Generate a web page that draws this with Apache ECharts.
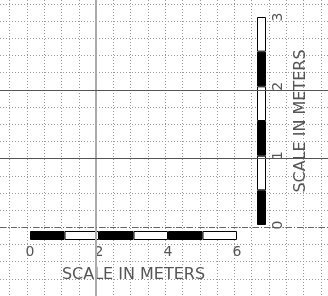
<!DOCTYPE html>
<html>
<head>
<meta charset="utf-8">
<script src="https://cdn.jsdelivr.net/npm/echarts@6/dist/echarts.min.js"></script>
<style>
  html, body { margin: 0; padding: 0; background: #fff; }
  #chart { width: 328px; height: 296px; }
</style>
</head>
<body>
<div id="chart"></div>
<script>
// 比例尺数据
const scaleTitle = 'SCALE IN METERS'
const hSegments = [1, 1, 1, 1, 1, 1]        // 水平比例尺，每段 1 m，共 6 m
const vSegments = [0.5, 0.5, 0.5, 0.5, 0.5, 0.5] // 竖直比例尺，每段 0.5 m，共 3 m
const hMax = 6
const vMax = 3

// 背景网格（格数）
const gridCols = 18
const gridRows = 17
const solidCols = [5]
const solidRows = [5, 9]
const dashRows = [13]

const chart = echarts.init(document.getElementById('chart'))
const textColor = '#555'
const font = '"DejaVu Sans ExtraLight", "DejaVu Sans"'

// 黑白交替
const segColor = i => (i % 2 === 0 ? '#000' : '#fff')

const hSeries = hSegments.map((v, i) => ({
  type: 'bar',
  xAxisIndex: 2,
  yAxisIndex: 2,
  stack: 'h',
  barWidth: '100%',
  silent: true,
  data: [v],
  itemStyle: { color: segColor(i), borderColor: '#000', borderWidth: 1 }
}))

const vSeries = vSegments.map((v, i) => ({
  type: 'bar',
  xAxisIndex: 3,
  yAxisIndex: 3,
  stack: 'v',
  barWidth: '100%',
  silent: true,
  data: [v],
  itemStyle: { color: segColor(i), borderColor: '#000', borderWidth: 1 }
}))

const dotted = { color: '#999', width: 1, type: [1, 2] }
const hidden = { axisLine: { show: false }, axisTick: { show: false }, axisLabel: { show: false } }

const option = {
  backgroundColor: '#fff',
  animation: false,
  grid: [
    { left: 9.7, width: 311.2, top: 0, height: 296 },   // 竖向网格线
    { left: 0, width: 328, top: 4, height: 293.25 },     // 横向网格线
    { left: 30, width: 207, top: 231, height: 9 },
    { left: 257, width: 9, top: 17, height: 208 }
  ],
  xAxis: [
    {
      gridIndex: 0, type: 'value', min: 0, max: gridCols, interval: 1, ...hidden,
      splitLine: { lineStyle: dotted }
    },
    {
      gridIndex: 1, type: 'value', min: 0, max: 1, ...hidden, splitLine: { show: false }
    },
    {
      gridIndex: 2, type: 'value', min: 0, max: hMax, interval: 2,
      axisLine: { show: false }, axisTick: { show: false }, splitLine: { show: false },
      axisLabel: { color: textColor, fontFamily: font, fontSize: 14, margin: 5 },
      name: scaleTitle, nameLocation: 'middle', nameGap: 27,
      nameTextStyle: { color: textColor, fontFamily: font, fontSize: 16 }
    },
    {
      gridIndex: 3, type: 'category', data: ['v'], show: false
    }
  ],
  yAxis: [
    {
      gridIndex: 0, type: 'value', min: 0, max: 1, ...hidden, splitLine: { show: false }
    },
    {
      gridIndex: 1, type: 'value', min: 0, max: gridRows, interval: 1, inverse: true, ...hidden,
      splitLine: { lineStyle: dotted }
    },
    {
      gridIndex: 2, type: 'category', data: ['h'], show: false
    },
    {
      gridIndex: 3, type: 'value', min: 0, max: vMax, interval: 1, position: 'right',
      axisLine: { show: false }, axisTick: { show: false }, splitLine: { show: false },
      axisLabel: { color: textColor, fontFamily: font, fontSize: 14, margin: 5, rotate: 90 },
      name: scaleTitle, nameLocation: 'middle', nameGap: 27, nameRotate: 90,
      nameTextStyle: { color: textColor, fontFamily: font, fontSize: 16 }
    }
  ],
  series: [
    {
      type: 'line',
      xAxisIndex: 0,
      yAxisIndex: 0,
      data: [],
      markLine: {
        silent: true,
        symbol: 'none',
        label: { show: false },
        data: solidCols.map(c => ({ xAxis: c, lineStyle: { color: '#aaa', width: 2, type: 'solid' } }))
      }
    },
    {
      type: 'line',
      xAxisIndex: 1,
      yAxisIndex: 1,
      data: [],
      markLine: {
        silent: true,
        symbol: 'none',
        label: { show: false },
        data: [
          ...solidRows.map(r => ({ yAxis: r, lineStyle: { color: '#555', width: 1, type: 'solid' } })),
          ...dashRows.map(r => ({ yAxis: r, lineStyle: { color: '#666', width: 1, type: [6, 2, 1, 2] } }))
        ]
      }
    },
    ...hSeries,
    ...vSeries
  ]
}

chart.setOption(option)
</script>
</body>
</html>
